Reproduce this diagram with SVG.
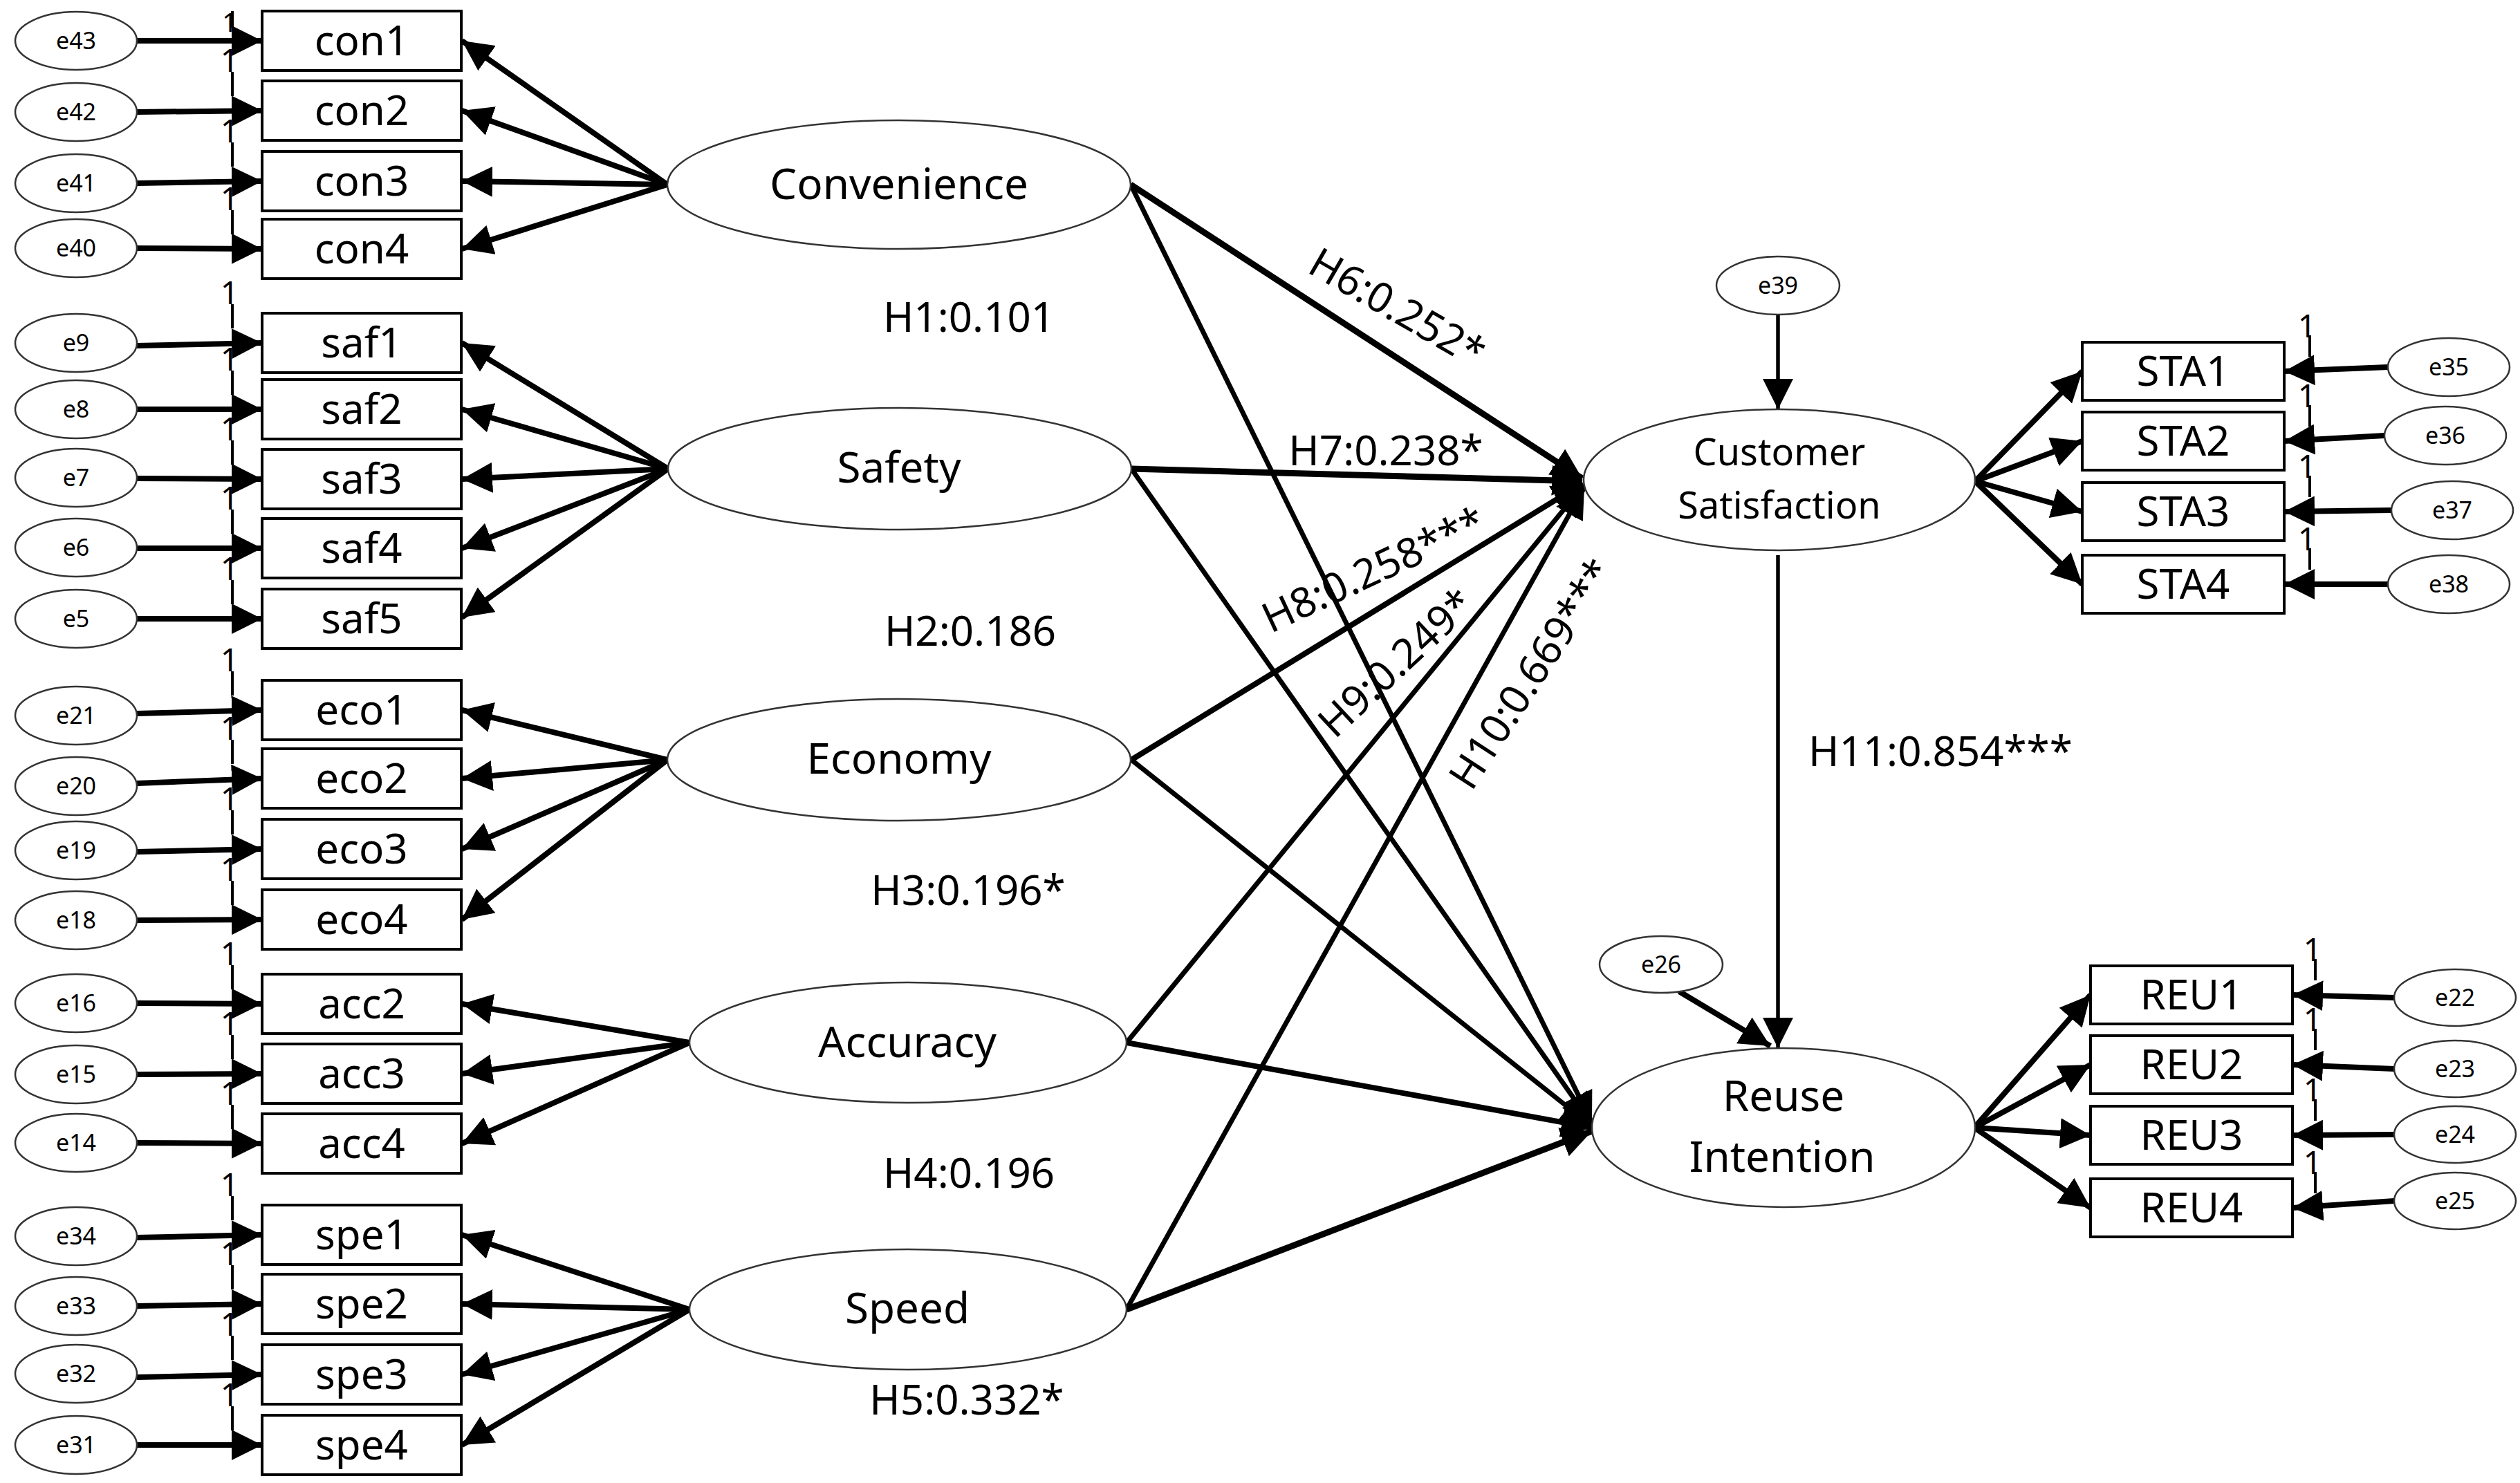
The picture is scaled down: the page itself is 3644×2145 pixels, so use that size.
<svg xmlns="http://www.w3.org/2000/svg" width="3644" height="2145" viewBox="0 0 3644 2145">
<defs>
<style>
.box{fill:#fff;stroke:#000;stroke-width:4}
.err{fill:#fff;stroke:#333;stroke-width:2.5}
.lat{fill:#fff;stroke:#333;stroke-width:2.5}
text{font-family:"Noto Sans","Open Sans","DejaVu Sans",sans-serif;fill:#000}
.bl{font-size:60px;text-anchor:middle}
.el{font-size:34px;text-anchor:middle}
.ll{font-size:62px;text-anchor:middle}
.cl{font-size:54px;text-anchor:middle}
.hl{font-size:60px;text-anchor:middle}
.one{font-size:46px;text-anchor:middle}
.c{stroke:#000;fill:none;marker-end:url(#ah)}
.m{stroke-width:8}
.s5{stroke-width:7}
.s7{stroke-width:9}
.s4{stroke-width:5.5}
.tick{stroke:#000;stroke-width:4}
</style>
<marker id="ah" viewBox="0 0 44 44" refX="44" refY="22" markerWidth="44" markerHeight="44" markerUnits="userSpaceOnUse" orient="auto">
<path d="M0,0 L44,22 L0,44 z" fill="#000"/>
</marker>
</defs>
<rect width="3644" height="2145" fill="#fff"/>

<g id="connectors">
<line class="c m" x1="198" y1="59" x2="379" y2="59"/>
<line class="c m" x1="198" y1="162" x2="379" y2="160"/>
<line class="c m" x1="198" y1="265" x2="379" y2="262"/>
<line class="c m" x1="198" y1="359" x2="379" y2="360"/>
<line class="c m" x1="198" y1="500" x2="379" y2="496"/>
<line class="c m" x1="198" y1="592" x2="379" y2="592"/>
<line class="c m" x1="198" y1="692" x2="379" y2="693"/>
<line class="c m" x1="198" y1="793" x2="379" y2="793"/>
<line class="c m" x1="198" y1="895" x2="379" y2="895"/>
<line class="c m" x1="198" y1="1032" x2="379" y2="1027"/>
<line class="c m" x1="198" y1="1133" x2="379" y2="1126"/>
<line class="c m" x1="198" y1="1232" x2="379" y2="1228"/>
<line class="c m" x1="198" y1="1331" x2="379" y2="1330"/>
<line class="c m" x1="198" y1="1451" x2="379" y2="1452"/>
<line class="c m" x1="198" y1="1554" x2="379" y2="1553"/>
<line class="c m" x1="198" y1="1653" x2="379" y2="1654"/>
<line class="c m" x1="198" y1="1790" x2="379" y2="1786"/>
<line class="c m" x1="198" y1="1889" x2="379" y2="1886"/>
<line class="c m" x1="198" y1="1992" x2="379" y2="1988"/>
<line class="c m" x1="198" y1="2090" x2="379" y2="2090"/>
<line class="c m" x1="965" y1="267" x2="668" y2="59"/>
<line class="c m" x1="965" y1="267" x2="668" y2="160"/>
<line class="c m" x1="965" y1="267" x2="668" y2="262"/>
<line class="c m" x1="965" y1="267" x2="668" y2="360"/>
<line class="c m" x1="966" y1="678" x2="668" y2="496"/>
<line class="c m" x1="966" y1="678" x2="668" y2="592"/>
<line class="c m" x1="966" y1="678" x2="668" y2="693"/>
<line class="c m" x1="966" y1="678" x2="668" y2="793"/>
<line class="c m" x1="966" y1="678" x2="668" y2="893"/>
<line class="c m" x1="965" y1="1099" x2="668" y2="1027"/>
<line class="c m" x1="965" y1="1099" x2="668" y2="1126"/>
<line class="c m" x1="965" y1="1099" x2="668" y2="1228"/>
<line class="c m" x1="965" y1="1099" x2="668" y2="1330"/>
<line class="c m" x1="997" y1="1508" x2="668" y2="1452"/>
<line class="c m" x1="997" y1="1508" x2="668" y2="1553"/>
<line class="c m" x1="997" y1="1508" x2="668" y2="1654"/>
<line class="c m" x1="997" y1="1894" x2="668" y2="1786"/>
<line class="c m" x1="997" y1="1894" x2="668" y2="1886"/>
<line class="c m" x1="997" y1="1894" x2="668" y2="1988"/>
<line class="c m" x1="997" y1="1894" x2="668" y2="2090"/>
<line class="c s7" x1="1635" y1="267" x2="2288" y2="692"/>
<line class="c s5" x1="1635" y1="267" x2="2302" y2="1624"/>
<line class="c s7" x1="1636" y1="678" x2="2288" y2="696"/>
<line class="c s5" x1="1636" y1="678" x2="2302" y2="1626"/>
<line class="c m" x1="1636" y1="1099" x2="2289" y2="699"/>
<line class="c s5" x1="1636" y1="1099" x2="2302" y2="1629"/>
<line class="c s5" x1="1629" y1="1508" x2="2290" y2="702"/>
<line class="c m" x1="1629" y1="1508" x2="2302" y2="1631"/>
<line class="c s5" x1="1629" y1="1894" x2="2291" y2="705"/>
<line class="c s7" x1="1629" y1="1894" x2="2302" y2="1636"/>
<line class="c s4" x1="2571" y1="455" x2="2571" y2="592"/>
<line class="c s4" x1="2571" y1="803" x2="2571" y2="1516"/>
<line class="c m" x1="2428" y1="1434" x2="2560" y2="1513"/>
<line class="c m" x1="2856" y1="696" x2="3011" y2="537"/>
<line class="c m" x1="2856" y1="696" x2="3011" y2="638"/>
<line class="c m" x1="2856" y1="696" x2="3011" y2="740"/>
<line class="c m" x1="2856" y1="696" x2="3011" y2="845"/>
<line class="c m" x1="2855" y1="1631" x2="3023" y2="1439"/>
<line class="c m" x1="2855" y1="1631" x2="3023" y2="1540"/>
<line class="c m" x1="2855" y1="1631" x2="3023" y2="1642"/>
<line class="c m" x1="2855" y1="1631" x2="3023" y2="1747"/>
<line class="c m" x1="3453" y1="531" x2="3303" y2="537"/>
<line class="c m" x1="3448" y1="630" x2="3303" y2="638"/>
<line class="c m" x1="3458" y1="738" x2="3303" y2="740"/>
<line class="c m" x1="3453" y1="845" x2="3303" y2="845"/>
<line class="c m" x1="3462" y1="1443" x2="3315" y2="1439"/>
<line class="c m" x1="3462" y1="1546" x2="3315" y2="1540"/>
<line class="c m" x1="3462" y1="1641" x2="3315" y2="1642"/>
<line class="c m" x1="3462" y1="1737" x2="3315" y2="1747"/>
</g>

<g id="weights">
<g class="tick">
<line x1="336" y1="16" x2="336" y2="40"/><line x1="336" y1="104" x2="336" y2="139"/><line x1="336" y1="206" x2="336" y2="241"/><line x1="336" y1="304" x2="336" y2="339"/>
<line x1="336" y1="440" x2="336" y2="475"/><line x1="336" y1="536" x2="336" y2="571"/><line x1="336" y1="637" x2="336" y2="672"/><line x1="336" y1="737" x2="336" y2="772"/><line x1="336" y1="839" x2="336" y2="874"/>
<line x1="336" y1="971" x2="336" y2="1006"/><line x1="336" y1="1070" x2="336" y2="1105"/><line x1="336" y1="1172" x2="336" y2="1207"/><line x1="336" y1="1274" x2="336" y2="1309"/>
<line x1="336" y1="1396" x2="336" y2="1431"/><line x1="336" y1="1497" x2="336" y2="1532"/><line x1="336" y1="1598" x2="336" y2="1633"/>
<line x1="336" y1="1730" x2="336" y2="1765"/><line x1="336" y1="1830" x2="336" y2="1865"/><line x1="336" y1="1932" x2="336" y2="1967"/><line x1="336" y1="2034" x2="336" y2="2069"/>
<line x1="3340" y1="485" x2="3340" y2="516"/><line x1="3340" y1="586" x2="3340" y2="617"/><line x1="3340" y1="688" x2="3340" y2="719"/><line x1="3340" y1="793" x2="3340" y2="824"/>
<line x1="3348" y1="1387" x2="3348" y2="1418"/><line x1="3348" y1="1488" x2="3348" y2="1519"/><line x1="3348" y1="1590" x2="3348" y2="1621"/><line x1="3348" y1="1695" x2="3348" y2="1726"/>
</g>
<text class="one" x="332" y="46" style="font-size:38px">1</text><text class="one" x="332" y="104">1</text><text class="one" x="332" y="206">1</text><text class="one" x="332" y="304">1</text>
<text class="one" x="332" y="440">1</text><text class="one" x="332" y="536">1</text><text class="one" x="332" y="637">1</text><text class="one" x="332" y="737">1</text><text class="one" x="332" y="839">1</text>
<text class="one" x="332" y="971">1</text><text class="one" x="332" y="1070">1</text><text class="one" x="332" y="1172">1</text><text class="one" x="332" y="1274">1</text>
<text class="one" x="332" y="1396">1</text><text class="one" x="332" y="1497">1</text><text class="one" x="332" y="1598">1</text>
<text class="one" x="332" y="1730">1</text><text class="one" x="332" y="1830">1</text><text class="one" x="332" y="1932">1</text><text class="one" x="332" y="2034">1</text>
<text class="one" x="3336" y="488">1</text><text class="one" x="3336" y="589">1</text><text class="one" x="3336" y="691">1</text><text class="one" x="3336" y="796">1</text>
<text class="one" x="3344" y="1390">1</text><text class="one" x="3344" y="1491">1</text><text class="one" x="3344" y="1593">1</text><text class="one" x="3344" y="1698">1</text>
</g>

<g id="labels">
<text class="hl" x="1401" y="480">H1:0.101</text>
<text class="hl" x="1403" y="934">H2:0.186</text>
<text class="hl" x="1400" y="1309">H3:0.196*</text>
<text class="hl" x="1401" y="1718">H4:0.196</text>
<text class="hl" x="1398" y="2046">H5:0.332*</text>
<text class="hl" x="2010" y="463" transform="rotate(30 2010 463)">H6:0.252*</text>
<text class="hl" x="2004" y="673">H7:0.238*</text>
<text class="hl" x="1995" y="843" transform="rotate(-25 1995 843)">H8:0.258***</text>
<text class="hl" x="2033" y="974" transform="rotate(-43 2033 974)">H9:0.249*</text>
<text class="hl" x="2232" y="986" transform="rotate(-57 2232 986)">H10:0.669***</text>
<text class="hl" x="2615" y="1108" style="text-anchor:start">H11:0.854***</text>
</g>

<g id="n-con1"><rect class="box" x="379" y="16" width="288" height="86"/><text class="bl" x="523" y="80">con1</text></g>
<g id="n-con2"><rect class="box" x="379" y="117" width="288" height="86"/><text class="bl" x="523" y="181">con2</text></g>
<g id="n-con3"><rect class="box" x="379" y="219" width="288" height="86"/><text class="bl" x="523" y="283">con3</text></g>
<g id="n-con4"><rect class="box" x="379" y="317" width="288" height="86"/><text class="bl" x="523" y="381">con4</text></g>
<g id="n-saf1"><rect class="box" x="379" y="453" width="288" height="86"/><text class="bl" x="523" y="517">saf1</text></g>
<g id="n-saf2"><rect class="box" x="379" y="549" width="288" height="86"/><text class="bl" x="523" y="613">saf2</text></g>
<g id="n-saf3"><rect class="box" x="379" y="650" width="288" height="86"/><text class="bl" x="523" y="714">saf3</text></g>
<g id="n-saf4"><rect class="box" x="379" y="750" width="288" height="86"/><text class="bl" x="523" y="814">saf4</text></g>
<g id="n-saf5"><rect class="box" x="379" y="852" width="288" height="86"/><text class="bl" x="523" y="916">saf5</text></g>
<g id="n-eco1"><rect class="box" x="379" y="984" width="288" height="86"/><text class="bl" x="523" y="1048">eco1</text></g>
<g id="n-eco2"><rect class="box" x="379" y="1083" width="288" height="86"/><text class="bl" x="523" y="1147">eco2</text></g>
<g id="n-eco3"><rect class="box" x="379" y="1185" width="288" height="86"/><text class="bl" x="523" y="1249">eco3</text></g>
<g id="n-eco4"><rect class="box" x="379" y="1287" width="288" height="86"/><text class="bl" x="523" y="1351">eco4</text></g>
<g id="n-acc2"><rect class="box" x="379" y="1409" width="288" height="86"/><text class="bl" x="523" y="1473">acc2</text></g>
<g id="n-acc3"><rect class="box" x="379" y="1510" width="288" height="86"/><text class="bl" x="523" y="1574">acc3</text></g>
<g id="n-acc4"><rect class="box" x="379" y="1611" width="288" height="86"/><text class="bl" x="523" y="1675">acc4</text></g>
<g id="n-spe1"><rect class="box" x="379" y="1743" width="288" height="86"/><text class="bl" x="523" y="1807">spe1</text></g>
<g id="n-spe2"><rect class="box" x="379" y="1843" width="288" height="86"/><text class="bl" x="523" y="1907">spe2</text></g>
<g id="n-spe3"><rect class="box" x="379" y="1945" width="288" height="86"/><text class="bl" x="523" y="2009">spe3</text></g>
<g id="n-spe4"><rect class="box" x="379" y="2047" width="288" height="86"/><text class="bl" x="523" y="2111">spe4</text></g>

<g id="n-e43"><ellipse class="err" cx="110" cy="59" rx="88" ry="42"/><text class="el" x="110" y="71">e43</text></g>
<g id="n-e42"><ellipse class="err" cx="110" cy="162" rx="88" ry="42"/><text class="el" x="110" y="174">e42</text></g>
<g id="n-e41"><ellipse class="err" cx="110" cy="265" rx="88" ry="42"/><text class="el" x="110" y="277">e41</text></g>
<g id="n-e40"><ellipse class="err" cx="110" cy="359" rx="88" ry="42"/><text class="el" x="110" y="371">e40</text></g>
<g id="n-e9"><ellipse class="err" cx="110" cy="496" rx="88" ry="42"/><text class="el" x="110" y="508">e9</text></g>
<g id="n-e8"><ellipse class="err" cx="110" cy="592" rx="88" ry="42"/><text class="el" x="110" y="604">e8</text></g>
<g id="n-e7"><ellipse class="err" cx="110" cy="691" rx="88" ry="42"/><text class="el" x="110" y="703">e7</text></g>
<g id="n-e6"><ellipse class="err" cx="110" cy="792" rx="88" ry="42"/><text class="el" x="110" y="804">e6</text></g>
<g id="n-e5"><ellipse class="err" cx="110" cy="895" rx="88" ry="42"/><text class="el" x="110" y="907">e5</text></g>
<g id="n-e21"><ellipse class="err" cx="110" cy="1035" rx="88" ry="42"/><text class="el" x="110" y="1047">e21</text></g>
<g id="n-e20"><ellipse class="err" cx="110" cy="1137" rx="88" ry="42"/><text class="el" x="110" y="1149">e20</text></g>
<g id="n-e19"><ellipse class="err" cx="110" cy="1230" rx="88" ry="42"/><text class="el" x="110" y="1242">e19</text></g>
<g id="n-e18"><ellipse class="err" cx="110" cy="1331" rx="88" ry="42"/><text class="el" x="110" y="1343">e18</text></g>
<g id="n-e16"><ellipse class="err" cx="110" cy="1451" rx="88" ry="42"/><text class="el" x="110" y="1463">e16</text></g>
<g id="n-e15"><ellipse class="err" cx="110" cy="1554" rx="88" ry="42"/><text class="el" x="110" y="1566">e15</text></g>
<g id="n-e14"><ellipse class="err" cx="110" cy="1653" rx="88" ry="42"/><text class="el" x="110" y="1665">e14</text></g>
<g id="n-e34"><ellipse class="err" cx="110" cy="1788" rx="88" ry="42"/><text class="el" x="110" y="1800">e34</text></g>
<g id="n-e33"><ellipse class="err" cx="110" cy="1889" rx="88" ry="42"/><text class="el" x="110" y="1901">e33</text></g>
<g id="n-e32"><ellipse class="err" cx="110" cy="1987" rx="88" ry="42"/><text class="el" x="110" y="1999">e32</text></g>
<g id="n-e31"><ellipse class="err" cx="110" cy="2090" rx="88" ry="42"/><text class="el" x="110" y="2102">e31</text></g>

<g id="n-convenience"><ellipse class="lat" cx="1300" cy="267" rx="335" ry="93"/><text class="ll" x="1300" y="288">Convenience</text></g>
<g id="n-safety"><ellipse class="lat" cx="1301" cy="678" rx="335" ry="88"/><text class="ll" x="1300" y="698">Safety</text></g>
<g id="n-economy"><ellipse class="lat" cx="1300" cy="1099" rx="335" ry="88"/><text class="ll" x="1300" y="1119">Economy</text></g>
<g id="n-accuracy"><ellipse class="lat" cx="1313" cy="1508" rx="316" ry="87"/><text class="ll" x="1312" y="1529">Accuracy</text></g>
<g id="n-speed"><ellipse class="lat" cx="1313" cy="1894" rx="316" ry="87"/><text class="ll" x="1312" y="1914">Speed</text></g>

<g id="n-cs"><ellipse class="lat" cx="2573" cy="694" rx="283" ry="102"/><text class="cl" x="2573" y="673">Customer</text><text class="cl" x="2573" y="750">Satisfaction</text></g>
<g id="n-ri"><ellipse class="lat" cx="2579" cy="1631" rx="277" ry="115"/><text class="ll" x="2579" y="1607">Reuse</text><text class="ll" x="2577" y="1695">Intention</text></g>
<g id="n-e39"><ellipse class="err" cx="2571" cy="413" rx="89" ry="42"/><text class="el" x="2571" y="425">e39</text></g>
<g id="n-e26"><ellipse class="err" cx="2402" cy="1395" rx="89" ry="41"/><text class="el" x="2402" y="1407">e26</text></g>

<g id="n-sta1"><rect class="box" x="3011" y="495" width="292" height="84"/><text class="bl" x="3157" y="558">STA1</text></g>
<g id="n-sta2"><rect class="box" x="3011" y="596" width="292" height="84"/><text class="bl" x="3157" y="659">STA2</text></g>
<g id="n-sta3"><rect class="box" x="3011" y="698" width="292" height="84"/><text class="bl" x="3157" y="761">STA3</text></g>
<g id="n-sta4"><rect class="box" x="3011" y="803" width="292" height="84"/><text class="bl" x="3157" y="866">STA4</text></g>
<g id="n-reu1"><rect class="box" x="3023" y="1397" width="292" height="84"/><text class="bl" x="3169" y="1460">REU1</text></g>
<g id="n-reu2"><rect class="box" x="3023" y="1498" width="292" height="84"/><text class="bl" x="3169" y="1561">REU2</text></g>
<g id="n-reu3"><rect class="box" x="3023" y="1600" width="292" height="84"/><text class="bl" x="3169" y="1663">REU3</text></g>
<g id="n-reu4"><rect class="box" x="3023" y="1705" width="292" height="84"/><text class="bl" x="3169" y="1768">REU4</text></g>

<g id="n-e35"><ellipse class="err" cx="3541" cy="531" rx="88" ry="42"/><text class="el" x="3541" y="543">e35</text></g>
<g id="n-e36"><ellipse class="err" cx="3536" cy="630" rx="88" ry="42"/><text class="el" x="3536" y="642">e36</text></g>
<g id="n-e37"><ellipse class="err" cx="3546" cy="738" rx="88" ry="42"/><text class="el" x="3546" y="750">e37</text></g>
<g id="n-e38"><ellipse class="err" cx="3541" cy="845" rx="88" ry="42"/><text class="el" x="3541" y="857">e38</text></g>
<g id="n-e22"><ellipse class="err" cx="3550" cy="1443" rx="88" ry="41"/><text class="el" x="3550" y="1455">e22</text></g>
<g id="n-e23"><ellipse class="err" cx="3550" cy="1546" rx="88" ry="41"/><text class="el" x="3550" y="1558">e23</text></g>
<g id="n-e24"><ellipse class="err" cx="3550" cy="1641" rx="88" ry="41"/><text class="el" x="3550" y="1653">e24</text></g>
<g id="n-e25"><ellipse class="err" cx="3550" cy="1737" rx="88" ry="41"/><text class="el" x="3550" y="1749">e25</text></g>
</svg>
